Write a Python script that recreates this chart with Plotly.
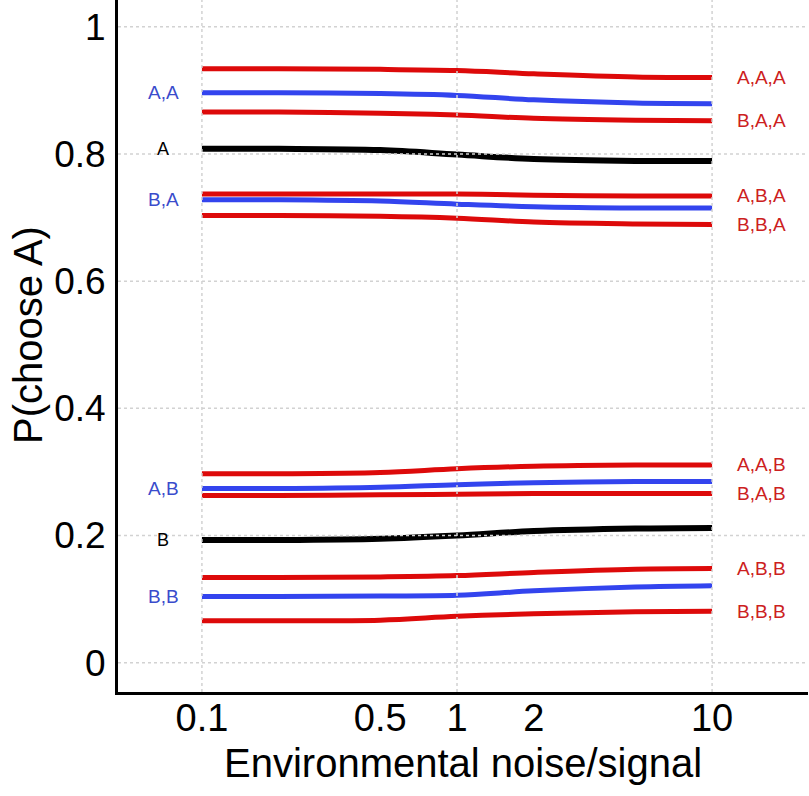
import numpy as np
import plotly.graph_objects as go

x_vals = [0.1, 0.2, 0.5, 1, 2, 5, 10]

series_red = {
    "A,A,A": [0.934, 0.934, 0.933, 0.931, 0.926, 0.921, 0.920],
    "B,A,A": [0.866, 0.866, 0.864, 0.861, 0.856, 0.853, 0.852],
    "A,B,A": [0.737, 0.737, 0.737, 0.737, 0.735, 0.734, 0.734],
    "B,B,A": [0.703, 0.703, 0.702, 0.699, 0.693, 0.690, 0.689],
    "A,A,B": [0.297, 0.297, 0.299, 0.305, 0.309, 0.311, 0.311],
    "B,A,B": [0.263, 0.263, 0.264, 0.265, 0.266, 0.266, 0.266],
    "A,B,B": [0.134, 0.134, 0.135, 0.137, 0.142, 0.147, 0.148],
    "B,B,B": [0.066, 0.066, 0.067, 0.073, 0.077, 0.080, 0.081],
}
series_blue = {
    "A,A": [0.896, 0.896, 0.895, 0.892, 0.885, 0.880, 0.879],
    "B,A": [0.728, 0.728, 0.726, 0.721, 0.717, 0.715, 0.715],
    "A,B": [0.274, 0.274, 0.276, 0.280, 0.283, 0.285, 0.285],
    "B,B": [0.104, 0.104, 0.105, 0.106, 0.113, 0.119, 0.121],
}
series_black = {
    "A": [0.808, 0.808, 0.806, 0.799, 0.792, 0.789, 0.789],
    "B": [0.193, 0.193, 0.195, 0.200, 0.207, 0.211, 0.212],
}

x_ticks = [0.1, 0.5, 1, 2, 10]
x_tick_text = ["0.1", "0.5", "1", "2", "10"]
y_ticks = [0, 0.2, 0.4, 0.6, 0.8, 1]
y_tick_text = ["0", "0.2", "0.4", "0.6", "0.8", "1"]
x_grid = [0.1, 1, 10]
x_title = "Environmental noise/signal"
y_title = "P(choose A)"

RED = "#dd0a0a"
BLUE = "#3344ee"
BLACK = "#000000"
RED_TXT = "#cc2020"
BLUE_TXT = "#3a4ccc"

LEFT_LABEL_X = 0.0705
RIGHT_LABEL_X = 12.3
FONT = "Liberation Sans, Arial"

fig = go.Figure()

for name, ys in series_red.items():
    fig.add_trace(go.Scatter(x=x_vals, y=ys, mode="lines",
                             line=dict(color=RED, width=5, shape="spline", smoothing=1.0),
                             showlegend=False, hoverinfo="skip"))
for name, ys in series_blue.items():
    fig.add_trace(go.Scatter(x=x_vals, y=ys, mode="lines",
                             line=dict(color=BLUE, width=5, shape="spline", smoothing=1.0),
                             showlegend=False, hoverinfo="skip"))
for name, ys in series_black.items():
    fig.add_trace(go.Scatter(x=x_vals, y=ys, mode="lines",
                             line=dict(color=BLACK, width=6, shape="spline", smoothing=1.0),
                             showlegend=False, hoverinfo="skip"))

annotations = []
for name, ys in series_red.items():
    annotations.append(dict(x=np.log10(RIGHT_LABEL_X), y=ys[-1], xref="x", yref="y", text=name,
                            showarrow=False, xanchor="left", yanchor="middle",
                            font=dict(color=RED_TXT, size=19, family=FONT)))
for name, ys in series_blue.items():
    annotations.append(dict(x=np.log10(LEFT_LABEL_X), y=ys[0], xref="x", yref="y", text=name,
                            showarrow=False, xanchor="center", yanchor="middle",
                            font=dict(color=BLUE_TXT, size=19, family=FONT)))
for name, ys in series_black.items():
    annotations.append(dict(x=np.log10(LEFT_LABEL_X), y=ys[0], xref="x", yref="y", text=name,
                            showarrow=False, xanchor="center", yanchor="middle",
                            font=dict(color=BLACK, size=18, family=FONT)))
# axis titles
annotations.append(dict(x=0.5, y=-0.1026, xref="paper", yref="paper", text=x_title,
                        showarrow=False, xanchor="center", yanchor="middle",
                        font=dict(color="black", size=40, family=FONT)))
annotations.append(dict(x=-0.1304, y=0.516, xref="paper", yref="paper", text=y_title,
                        showarrow=False, xanchor="center", yanchor="middle", textangle=-90,
                        font=dict(color="black", size=40, family=FONT)))

shapes = []
GRID = dict(color="#d2d2d2", width=1.5, dash="dot")
for yv in y_ticks:
    shapes.append(dict(type="line", xref="paper", yref="y", x0=0, x1=1, y0=yv, y1=yv,
                       line=GRID, layer="above"))
for xv in x_grid:
    shapes.append(dict(type="line", xref="x", yref="paper", x0=xv, x1=xv, y0=0, y1=1,
                       line=GRID, layer="above"))

fig.update_layout(
    width=809, height=796,
    margin=dict(l=118, r=1, t=0, b=104, autoexpand=False),
    paper_bgcolor="white", plot_bgcolor="white",
    font=dict(family=FONT, color="black"),
    annotations=annotations,
    shapes=shapes,
    xaxis=dict(type="log", range=[-1.329, 1.376], tickvals=x_ticks, ticktext=x_tick_text,
               showgrid=False, zeroline=False, showline=True, linecolor="black", linewidth=3,
               ticks="", tickfont=dict(size=38), ticklabelstandoff=-10, automargin=False),
    yaxis=dict(range=[-0.046, 1.042], tickvals=y_ticks, ticktext=y_tick_text,
               showgrid=False, zeroline=False, showline=True, linecolor="black", linewidth=3,
               ticks="", tickfont=dict(size=37), ticklabelstandoff=2, automargin=False),
)

fig.write_html("out.html", config={"displayModeBar": False},
               post_script="document.body.style.margin='0';document.body.style.padding='0';")
